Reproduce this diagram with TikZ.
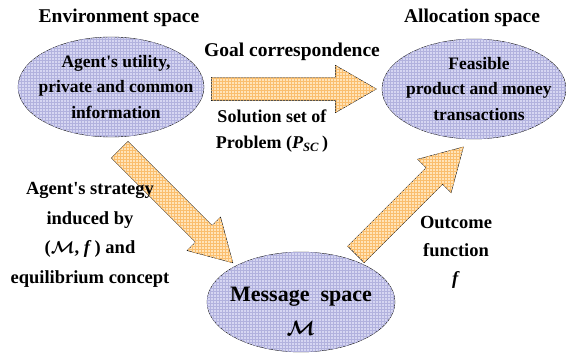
\documentclass[tikz,border=0pt]{standalone}
\usepackage{fontspec}
\setmainfont{Liberation Serif}
\usetikzlibrary{shapes.geometric,shapes.arrows,patterns}
\definecolor{spacefill}{RGB}{214,214,242}
\definecolor{spacegrid}{RGB}{178,178,222}
\definecolor{arrowfill}{RGB}{255,228,185}
\definecolor{arrowgrid}{RGB}{250,190,110}
\begin{document}
\begin{tikzpicture}[x=1pt,y=1pt]
	\tikzset{space/.style = {shape=ellipse,draw,fill=spacefill,postaction={pattern=grid,pattern color=spacegrid},inner sep=0pt,minimum width=186pt,minimum height=100pt,align=center,font=\bfseries\fontsize{17.5}{25.5}\selectfont}}
	\tikzset{bigarrow/.style = {shape=single arrow,draw,fill=arrowfill,postaction={pattern=grid,pattern color=arrowgrid},inner xsep=0pt,inner ysep=11.5pt,single arrow head extend=12pt,single arrow tip angle=60,anchor=tip}}
	\tikzset{heading/.style = {font=\bfseries\fontsize{19.5}{24}\selectfont}}
	\tikzset{caption/.style = {align=center,font=\bfseries\fontsize{18.5}{28}\selectfont}}
	\useasboundingbox (0,0) rectangle (566,354);
	% the three spaces
	\node[space] (env) at (111,267) {};
	\node[align=center,font=\bfseries\fontsize{17.5}{25.5}\selectfont] (envtext) at ([xshift=5pt]env.center) {Agent\textquotesingle s utility,\\private and common\\information};
	\node[space,minimum width=184pt] (alloc) at (474,265) {};
	\node[align=center,font=\bfseries\fontsize{17.5}{25.5}\selectfont] (alloctext) at ([xshift=5pt]alloc.center) {Feasible\\product and money\\transactions};
	\node[space,minimum width=188pt] (msg) at (301,52) {};
	\node[align=center,font=\bfseries\fontsize{22}{34}\selectfont\boldmath] (msgtext) at ([yshift=-9pt]msg.center) {Message\ \ space\\$\mathcal{M}$};
	\node[heading] (envhead) at (119,336) {Environment space};
	\node[heading] (allochead) at (472,336) {Allocation space};
	% block arrows
	\node[bigarrow,minimum height=165pt] (goal) at ([xshift=-5pt]alloc.west) {};
	\node[bigarrow,minimum height=160pt,rotate=-45] (strat) at ([shift={(-4,2)}]msg.150) {};
	\node[bigarrow,minimum height=152pt,rotate=45] (outc) at ([shift={(3,-8)}]alloc.255) {};
	% labels
	\node[heading] (goallab) at (292,302) {Goal correspondence};
	\node[caption,font=\bfseries\fontsize{18}{26}\selectfont] (sollab) at (272,223) {Solution set of\\Problem (\textit{P}\textsubscript{\textit{SC}}\,)};
	\node[caption,font=\bfseries\fontsize{18.5}{29.5}\selectfont\boldmath] (stratlab) at (90,119) {Agent\textquotesingle s strategy\\induced by\\($\mathcal{M}$, \textit{f}\,) and\\equilibrium concept};
	\node[caption] (outclab) at (456,102) {Outcome\\function\\\textit{f}};
\end{tikzpicture}
\end{document}
